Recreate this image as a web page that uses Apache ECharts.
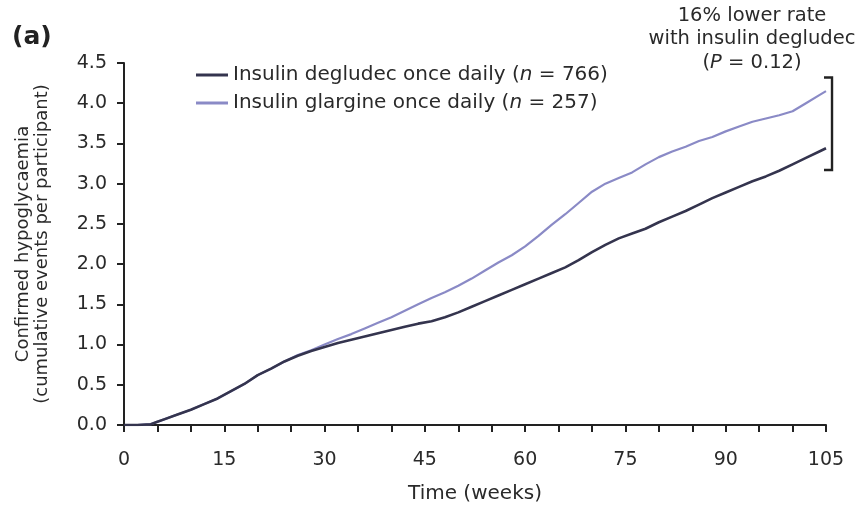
<!DOCTYPE html>
<html>
<head>
<meta charset="utf-8">
<script src="https://cdn.jsdelivr.net/npm/echarts@6/dist/echarts.min.js"></script>
<style>
html,body{margin:0;padding:0;background:#fff;}
#c{width:862px;height:506px;}
</style>
</head>
<body>
<div id="c"></div>
<script>
var weeks = [0,2,4,5,6,8,10,12,14,16,18,20,22,24,26,28,30,32,34,36,38,40,42,44,46,48,50,52,54,56,58,60,62,64,66,68,70,72,74,76,78,80,82,84,86,88,90,92,94,96,98,100,102,104,105];
var degludec = [0,0,0.01,0.04,0.07,0.13,0.19,0.26,0.33,0.42,0.51,0.62,0.70,0.79,0.86,0.92,0.97,1.02,1.06,1.10,1.14,1.18,1.22,1.26,1.29,1.34,1.40,1.47,1.54,1.61,1.68,1.75,1.82,1.89,1.96,2.05,2.15,2.24,2.32,2.38,2.44,2.52,2.59,2.66,2.74,2.82,2.89,2.96,3.03,3.09,3.16,3.24,3.32,3.40,3.44];
var glargine = [0,0,0.01,0.04,0.07,0.13,0.19,0.26,0.33,0.42,0.51,0.62,0.70,0.79,0.87,0.93,1.00,1.07,1.13,1.20,1.27,1.34,1.42,1.50,1.58,1.65,1.73,1.82,1.92,2.02,2.11,2.22,2.35,2.49,2.62,2.76,2.90,3.00,3.07,3.14,3.24,3.33,3.40,3.46,3.53,3.58,3.65,3.71,3.77,3.81,3.85,3.90,4.00,4.10,4.15];
var seriesNames = ['Insulin degludec once daily', 'Insulin glargine once daily'];
var nCounts = ['766', '257'];
var xTickLabels = [0,15,30,45,60,75,90,105];
var bracket = {week: 105.9, top: 4.32, bottom: 3.17, stub: 1.2};
var annotation = ['16% lower rate', 'with insulin degludec', '0.12'];

function pairs(ys){ return weeks.map(function(w,i){ return [w, ys[i]]; }); }

var FONT = '"DejaVu Sans", "Liberation Sans", Arial, sans-serif';
var TXT = '#2a2a2a';
var chart = echarts.init(document.getElementById('c'));
var option = {
  animation: false,
  backgroundColor: '#fff',
  textStyle: {fontFamily: FONT},
  grid: {left: 124, right: 36, top: 63, bottom: 81, containLabel: false, outerBoundsMode: 'none'},
  legend: {
    orient: 'vertical', left: 191, top: 59, itemGap: 6,
    itemWidth: 32, itemHeight: 3, icon: 'rect',
    data: seriesNames,
    formatter: function(name){
      var i = seriesNames.indexOf(name);
      return '{a|' + name + ' (}{i|n}{a| = ' + nCounts[i] + ')}';
    },
    textStyle: {
      fontSize: 20, color: TXT, fontFamily: FONT, lineHeight: 22,
      rich: {
        a: {fontSize: 20, color: TXT, fontFamily: FONT, lineHeight: 22},
        i: {fontSize: 20, color: TXT, fontFamily: FONT, fontStyle: 'italic', lineHeight: 22}
      }
    }
  },
  xAxis: {
    type: 'value', min: 0, max: 105, interval: 5,
    name: 'Time (weeks)', nameLocation: 'middle', nameGap: 59,
    nameTextStyle: {fontSize: 20, color: TXT, fontFamily: FONT},
    axisLine: {lineStyle: {color: '#222', width: 2}},
    axisTick: {show: true, length: 7, lineStyle: {color: '#222', width: 2}},
    axisLabel: {
      fontSize: 19, color: TXT, margin: 26, fontFamily: FONT,
      formatter: function(v){ return xTickLabels.indexOf(v) >= 0 ? String(v) : ''; }
    },
    splitLine: {show: false}
  },
  yAxis: {
    type: 'value', min: 0, max: 4.5, interval: 0.5,
    name: 'Confirmed hypoglycaemia\n(cumulative events per participant)',
    nameLocation: 'middle', nameGap: 72, nameRotate: 90,
    nameTextStyle: {fontSize: 18, color: TXT, fontFamily: FONT, lineHeight: 19},
    axisLine: {show: true, lineStyle: {color: '#222', width: 2}},
    axisTick: {show: true, length: 7, lineStyle: {color: '#222', width: 2}},
    axisLabel: {
      fontSize: 19, color: TXT, margin: 17, fontFamily: FONT,
      formatter: function(v){ return v.toFixed(1); }
    },
    splitLine: {show: false}
  },
  series: [
    {
      name: seriesNames[0], type: 'line', data: pairs(degludec),
      symbol: 'none', z: 3,
      lineStyle: {color: '#34344e', width: 2.6},
      itemStyle: {color: '#34344e'}
    },
    {
      name: seriesNames[1], type: 'line', data: pairs(glargine),
      symbol: 'none', z: 2,
      lineStyle: {color: '#8a8ac6', width: 2.2},
      itemStyle: {color: '#8a8ac6'}
    }
  ]
};
chart.setOption(option);

// bracket and annotation placed through the chart's own scales
var pTop = chart.convertToPixel({gridIndex: 0}, [bracket.week, bracket.top]);
var pBot = chart.convertToPixel({gridIndex: 0}, [bracket.week, bracket.bottom]);
var pStub = chart.convertToPixel({gridIndex: 0}, [bracket.week - bracket.stub, bracket.top]);
var stubX = pStub[0];
chart.setOption({
  graphic: [
    {type: 'text', left: 12, top: 25, style: {text: '(a)', font: 'bold 25px ' + FONT, fill: '#222'}},
    {type: 'polyline', shape: {points: [[stubX, pTop[1]], [pTop[0], pTop[1]], [pBot[0], pBot[1]], [stubX, pBot[1]]]},
     style: {stroke: '#222', lineWidth: 2.4, fill: null}},
    {type: 'text', x: 752, y: 4, style: {
      text: annotation[0] + '\n' + annotation[1] + '\n({i|P} = ' + annotation[2] + ')',
      align: 'center', font: '19.5px ' + FONT, fill: TXT, lineHeight: 23.5,
      rich: {i: {fontStyle: 'italic', fontSize: 19.5, fill: TXT, fontFamily: FONT, lineHeight: 23.5}}
    }}
  ]
});
</script>
</body>
</html>
